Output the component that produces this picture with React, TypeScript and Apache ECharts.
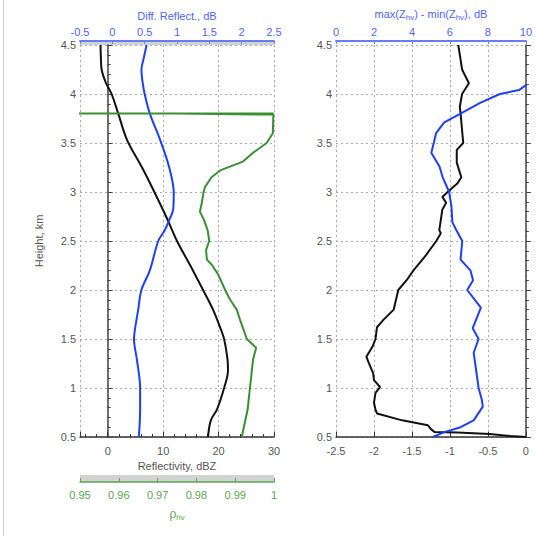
import React, { useEffect, useRef } from 'react';
import * as echarts from 'echarts';

// Left panel: reflectivity (dBZ) vs height (km)
const reflHeights = [4.5, 4.4, 4.25, 4.11, 4.0, 3.8, 3.53, 3.25, 2.99, 2.73, 2.5, 2.25, 2.0, 1.8, 1.6, 1.5, 1.3, 1.18, 1.0, 0.78, 0.67, 0.5];
const reflValues = [-1.3, -1.25, -1.1, -0.3, 0.7, 1.9, 3.5, 6.2, 8.5, 10.7, 12.5, 14.9, 17.2, 19.0, 20.4, 21.0, 21.6, 21.7, 21.0, 19.7, 18.6, 18.1];

// Left panel: differential reflectivity (dB)
const zdrHeights = [4.5, 4.35, 4.25, 4.11, 4.0, 3.8, 3.53, 3.25, 2.99, 2.82, 2.73, 2.61, 2.5, 2.2, 2.0, 1.8, 1.6, 1.5, 1.29, 1.0, 0.78, 0.5];
const zdrValues = [0.53, 0.48, 0.45, 0.47, 0.5, 0.58, 0.74, 0.88, 0.95, 0.94, 0.89, 0.81, 0.71, 0.58, 0.45, 0.4, 0.35, 0.335, 0.38, 0.43, 0.43, 0.41];

// Left panel: rho_hv
const rhoHeights = [3.8, 3.8, 3.8, 3.79, 3.75, 3.6, 3.5, 3.4, 3.31, 3.22, 3.15, 3.05, 2.99, 2.89, 2.8, 2.71, 2.61, 2.5, 2.41, 2.31, 2.26, 2.16, 2.0, 1.9, 1.8, 1.7, 1.6, 1.5, 1.41, 1.29, 1.0, 0.78, 0.5];
const rhoValues = [0.9, 0.9999, 0.975, 0.9999, 0.9998, 0.9997, 0.9981, 0.9946, 0.992, 0.9861, 0.9839, 0.9822, 0.9818, 0.9814, 0.9809, 0.982, 0.9829, 0.9833, 0.9825, 0.9827, 0.9839, 0.9856, 0.9874, 0.9887, 0.9904, 0.9912, 0.9921, 0.993, 0.9954, 0.9946, 0.9938, 0.9932, 0.9917];

// Right panel: black curve (bottom axis)
const rightBlackHeights = [4.5, 4.35, 4.25, 4.11, 4.0, 3.87, 3.8, 3.63, 3.5, 3.43, 3.3, 3.15, 3.09, 3.0, 2.95, 2.89, 2.82, 2.61, 2.58, 2.5, 2.34, 2.2, 2.1, 2.0, 1.8, 1.7, 1.62, 1.5, 1.42, 1.32, 1.26, 1.15, 1.08, 1.01, 0.95, 0.85, 0.78, 0.74, 0.67, 0.62, 0.58, 0.55, 0.545, 0.53, 0.51, 0.5];
const rightBlackValues = [-0.89, -0.86, -0.84, -0.75, -0.84, -0.87, -0.86, -0.84, -0.825, -0.91, -0.91, -0.85, -0.9, -1.03, -1.1, -1.05, -1.1, -1.14, -1.12, -1.18, -1.33, -1.48, -1.57, -1.68, -1.74, -1.87, -1.96, -1.98, -2.02, -2.1, -2.07, -2.01, -2.0, -1.92, -1.98, -2.0, -1.98, -1.96, -1.63, -1.29, -1.25, -1.2, -0.9, -0.48, -0.2, 0];

// Right panel: blue curve, max(Zhv)-min(Zhv) (top axis)
const spreadHeights = [4.16, 4.09, 4.04, 4.0, 3.91, 3.8, 3.71, 3.6, 3.5, 3.4, 3.26, 3.15, 3.0, 2.85, 2.69, 2.61, 2.5, 2.31, 2.2, 2.1, 2.0, 1.82, 1.61, 1.5, 1.36, 1.0, 0.88, 0.81, 0.67, 0.6, 0.55, 0.5];
const spreadValues = [11, 10, 9.64, 8.63, 7.59, 6.56, 5.7, 5.27, 5.15, 5.02, 5.45, 5.62, 5.96, 6.08, 6.13, 6.34, 6.65, 6.56, 7.08, 7.22, 6.91, 7.63, 7.2, 7.51, 7.25, 7.51, 7.68, 7.73, 7.25, 6.56, 5.7, 5.1];

const zip = (xs: number[], ys: number[]) => xs.map((x, i) => [x, ys[i]]);

const FONT = 'Liberation Sans, Arial, sans-serif';
const GRAY = '#555';
const BLUE_TXT = '#5064f2';
const BLUE_LINE = '#1f3ff2';
const GREEN_LINE = '#3a8f32';
const GREEN_TXT = '#5aa552';
const GRID_LINE = { show: true, lineStyle: { color: '#aaa', type: [2, 3] as any, width: 1 } };

export default function App() {
  const ref = useRef<HTMLDivElement>(null);
  useEffect(() => {
    if (!ref.current) return;
    const chart = echarts.init(ref.current, undefined, { renderer: 'svg' });
    const yAxisCommon = {
      type: 'value',
      min: 0.5,
      max: 4.5,
      interval: 0.5,
      axisLine: { show: true, lineStyle: { color: '#444', width: 1.5 } },
      axisTick: { show: true, inside: true, length: 5, lineStyle: { color: '#444' } },
      minorTick: { show: true, splitNumber: 5, length: 3, lineStyle: { color: '#444' } },
      axisLabel: { color: GRAY, fontSize: 11, margin: 4, fontFamily: FONT },
      splitLine: GRID_LINE,
    };
    const option: any = {
      animation: false,
      textStyle: { fontFamily: FONT },
      graphic: [
        { type: 'line', shape: { x1: 3.5, y1: 0, x2: 3.5, y2: 536 }, style: { stroke: '#d0d0d0', lineWidth: 1 } },
      ],
      grid: [
        { left: 80, top: 45, width: 194, height: 392 },
        { left: 336, top: 45, width: 194, height: 392 },
        { left: 80, top: 41, width: 194, height: 4, show: true, backgroundColor: '#d2d2d2', borderWidth: 0 },
        { left: 80, top: 475, width: 194, height: 7, show: true, backgroundColor: '#d2d2d2', borderWidth: 0 },
      ],
      xAxis: [
        {
          type: 'value', gridIndex: 0, position: 'bottom', min: -5, max: 30, splitNumber: 4,
          name: 'Reflectivity, dBZ', nameLocation: 'middle', nameGap: 21,
          nameTextStyle: { color: GRAY, fontSize: 11, fontFamily: FONT },
          axisLine: { show: true, onZero: false, lineStyle: { color: '#333', width: 1.5 } },
          axisTick: { show: true, inside: true, length: 5, lineStyle: { color: '#333' } },
          minorTick: { show: true, splitNumber: 5, length: 3, lineStyle: { color: '#333' } },
          axisLabel: { color: GRAY, fontSize: 11, margin: 8, showMinLabel: false },
          splitLine: GRID_LINE,
        },
        {
          type: 'value', gridIndex: 0, position: 'top', offset: 4, min: -0.5, max: 2.5, interval: 0.5,
          name: 'Diff. Reflect., dB', nameLocation: 'middle', nameGap: 18,
          nameTextStyle: { color: BLUE_TXT, fontSize: 11, fontFamily: FONT },
          axisLine: { show: true, onZero: false, lineStyle: { color: '#6a7cf2', width: 2 } },
          axisTick: { show: true, inside: true, length: 3, lineStyle: { color: '#6a7cf2' } },
          axisLabel: { color: BLUE_TXT, fontSize: 11, margin: 4 },
          splitLine: { show: false },
        },
        {
          type: 'value', gridIndex: 0, min: 0.95, max: 1, show: false, splitLine: { show: false },
        },
        {
          type: 'value', gridIndex: 1, position: 'bottom', min: -2.5, max: 0, interval: 0.5,
          axisLine: { show: true, onZero: false, lineStyle: { color: '#333', width: 1.5 } },
          axisTick: { show: true, inside: true, length: 5, lineStyle: { color: '#333' } },
          axisLabel: { color: GRAY, fontSize: 11, margin: 8 },
          splitLine: GRID_LINE,
        },
        {
          type: 'value', gridIndex: 1, position: 'top', offset: 4, min: 0, max: 10, interval: 2,
          name: 'max(Z{s|hv}) - min(Z{s|hv}), dB', nameLocation: 'middle', nameGap: 18,
          nameTextStyle: {
            color: BLUE_TXT, fontSize: 11, fontFamily: FONT,
            rich: { s: { color: BLUE_TXT, fontSize: 8, fontFamily: FONT, padding: [7, 0, 0, 0] } },
          },
          axisLine: { show: true, onZero: false, lineStyle: { color: '#6a7cf2', width: 2 } },
          axisTick: { show: true, inside: true, length: 3, lineStyle: { color: '#6a7cf2' } },
          axisLabel: { color: BLUE_TXT, fontSize: 11, margin: 4 },
          splitLine: { show: false },
        },
        {
          type: 'value', gridIndex: 3, position: 'bottom', min: 0.95, max: 1, interval: 0.01,
          name: 'ρ{s|hv}', nameLocation: 'middle', nameGap: 24,
          nameTextStyle: {
            color: GREEN_TXT, fontSize: 12, fontFamily: FONT,
            rich: { s: { color: GREEN_TXT, fontSize: 8, fontFamily: FONT, padding: [7, 0, 0, 0] } },
          },
          axisLine: { show: true, onZero: false, lineStyle: { color: GREEN_TXT, width: 1.5 } },
          axisTick: { show: true, inside: true, length: 4, lineStyle: { color: GREEN_TXT } },
          axisLabel: { color: GREEN_TXT, fontSize: 11, margin: 7 },
          splitLine: { show: false },
        },
        { type: 'value', gridIndex: 2, show: false, splitLine: { show: false } },
      ],
      yAxis: [
        {
          ...yAxisCommon, gridIndex: 0,
          name: 'Height, km', nameLocation: 'middle', nameGap: 36,
          nameTextStyle: { color: GRAY, fontSize: 11, fontFamily: FONT },
        },
        { ...yAxisCommon, gridIndex: 1 },
        { type: 'value', gridIndex: 2, show: false, splitLine: { show: false } },
        { type: 'value', gridIndex: 3, show: false, splitLine: { show: false } },
      ],
      series: [
        {
          type: 'line', xAxisIndex: 0, yAxisIndex: 0, data: zip(reflValues, reflHeights),
          showSymbol: false, smooth: 0.35, lineStyle: { color: '#111', width: 2 }, clip: true, z: 3,
        },
        {
          type: 'line', xAxisIndex: 1, yAxisIndex: 0, data: zip(zdrValues, zdrHeights),
          showSymbol: false, smooth: 0.35, lineStyle: { color: BLUE_LINE, width: 2 }, clip: true, z: 3,
        },
        {
          type: 'line', xAxisIndex: 2, yAxisIndex: 0, data: zip(rhoValues, rhoHeights),
          showSymbol: false, lineStyle: { color: GREEN_LINE, width: 2 }, clip: true, z: 3,
        },
        {
          type: 'line', xAxisIndex: 3, yAxisIndex: 1, data: zip(rightBlackValues, rightBlackHeights),
          showSymbol: false, lineStyle: { color: '#111', width: 2 }, clip: true, z: 3,
        },
        {
          type: 'line', xAxisIndex: 4, yAxisIndex: 1, data: zip(spreadValues, spreadHeights),
          showSymbol: false, lineStyle: { color: BLUE_LINE, width: 2 }, clip: true, z: 3,
        },
      ],
    };
    chart.setOption(option);
    return () => chart.dispose();
  }, []);
  return <div ref={ref} style={{ position: 'absolute', left: 0, top: 0, width: 535, height: 536 }} />;
}
